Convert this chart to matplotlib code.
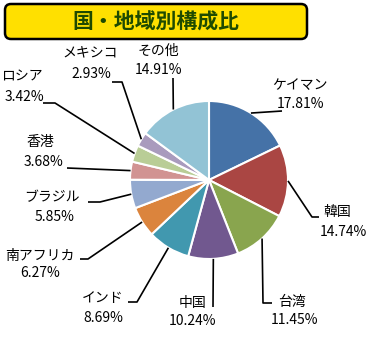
import matplotlib.pyplot as plt
from matplotlib.patches import FancyBboxPatch
import numpy as np

plt.rcParams['font.family'] = ['Noto Sans CJK JP', 'DejaVu Sans']

# data
names = ['ケイマン', '韓国', '台湾', '中国', 'インド', '南アフリカ',
         'ブラジル', '香港', 'ロシア', 'メキシコ', 'その他']
shares = [17.81, 14.74, 11.45, 10.24, 8.69, 6.27, 5.85, 3.68, 3.42, 2.93, 14.91]
colors = ['#4572A7', '#AA4643', '#89A54E', '#71588F', '#4198AF', '#DB843D',
          '#93A9CF', '#D19392', '#B9CD96', '#A99BBD', '#92C3D5']

# label layout in image pixels (name x, name y, pct x, pct y)
label_pos = [(300, 85, 301, 104), (337, 212, 343, 232), (292, 302, 295, 320),
             (193, 303, 193, 321), (103, 298, 103, 318), (40, 256, 40, 273),
             (52, 197, 55, 217), (40, 142, 44, 162), (22, 77, 24, 97),
             (90, 53, 91, 74), (158, 51, 159, 70)]
# leader elbow and end points in image pixels
leaders = [[(282, 111)], [(312, 217), (319, 217)], [(263, 303), (272, 303)],
           [(213, 307)], [(137, 302), (128, 302)], [(88, 259), (80, 259)],
           [(100, 202), (88, 202)], [(67, 168)], [(55, 103), (43, 103)],
           [(122, 82), (112, 82)], [(173, 78)]]

W, H = 371, 337
fig = plt.figure(figsize=(W / 100, H / 100), dpi=100)
ax = fig.add_axes([0, 0, 1, 1])
ax.set_xlim(0, W)
ax.set_ylim(0, H)
ax.axis('off')

cx, cy, r = 209, H - 180, 79
wedges, _ = ax.pie(shares, colors=colors, startangle=90, counterclock=False,
                   center=(cx, cy), radius=r,
                   wedgeprops=dict(edgecolor='white', linewidth=1.5))
ax.set_xlim(0, W)
ax.set_ylim(0, H)
ax.set_aspect('equal')

for w, name, val, pos, path in zip(wedges, names, shares, label_pos, leaders):
    mid = np.deg2rad((w.theta1 + w.theta2) / 2)
    xs = [cx + r * np.cos(mid)] + [p[0] for p in path]
    ys = [cy + r * np.sin(mid)] + [H - p[1] for p in path]
    ax.plot(xs, ys, color='black', lw=1.2, solid_capstyle='butt')
    ax.text(pos[0], H - pos[1], name, ha='center', va='center', fontsize=10)
    ax.text(pos[2], H - pos[3], f'{val:.2f}%', ha='center', va='center',
            fontsize=10)

# title box
box = FancyBboxPatch((5, H - 39), 302, 35,
                     boxstyle='round,pad=0,rounding_size=6',
                     facecolor='#FFE000', edgecolor='black', lw=1.8)
ax.add_patch(box)
ax.text(156, H - 22, '国・地域別構成比', ha='center', va='center',
        fontsize=15, fontweight='bold', color='#1E4A00')

fig.savefig('out.png', dpi=100)
